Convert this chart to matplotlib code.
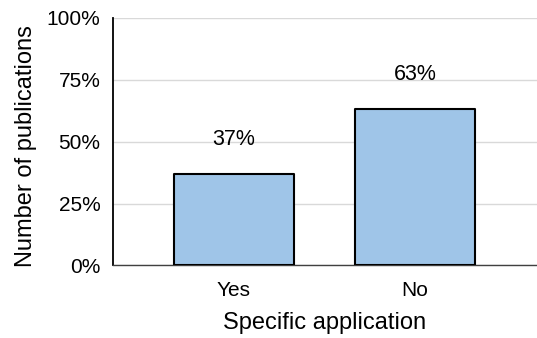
import matplotlib
matplotlib.use("Agg")
import matplotlib.pyplot as plt
from matplotlib.ticker import PercentFormatter

categories = ["Yes", "No"]
shares = [37, 63]
y_ticks = [0, 25, 50, 75, 100]

plt.rcParams["font.family"] = ["Liberation Sans", "DejaVu Sans"]

fig = plt.figure(figsize=(5.37, 3.38), dpi=100)
ax = fig.add_axes([0.2104, 0.2145, 0.7896, 0.7337])

x = range(len(categories))
bars = ax.bar(x, shares, width=0.663, color="#9fc5e8", edgecolor="black",
              linewidth=1.5, zorder=3)
for b in bars:
    b.set_joinstyle("round")

for xi, v in zip(x, shares):
    ax.annotate(f"{v}%", xy=(xi, v), xytext=(0, 21), textcoords="offset points",
                ha="center", va="baseline", fontsize=15.5, zorder=4)

ax.set_xlim(-0.668, 1.674)
ax.set_ylim(0, 100)
ax.set_yticks(y_ticks)
ax.yaxis.set_major_formatter(PercentFormatter(decimals=0))
ax.set_xticks(list(x))
ax.set_xticklabels(categories)
ax.tick_params(axis="both", length=0, labelsize=15)
ax.tick_params(axis="y", pad=9)
ax.tick_params(axis="x", pad=11)

ax.grid(axis="y", color="#d9d9d9", linewidth=1.0, zorder=0)
ax.set_axisbelow(True)
for s in ("top", "right"):
    ax.spines[s].set_visible(False)
ax.spines["left"].set_linewidth(1.3)
ax.spines["left"].set_color("black")
ax.spines["bottom"].set_linewidth(1.0)
ax.spines["bottom"].set_color("#404040")

ax.set_ylabel("Number of publications", fontsize=17)
ax.yaxis.set_label_coords(-0.18, 0.48)
ax.set_xlabel("Specific application", fontsize=17, labelpad=9)

fig.savefig("out.png", dpi=100)
